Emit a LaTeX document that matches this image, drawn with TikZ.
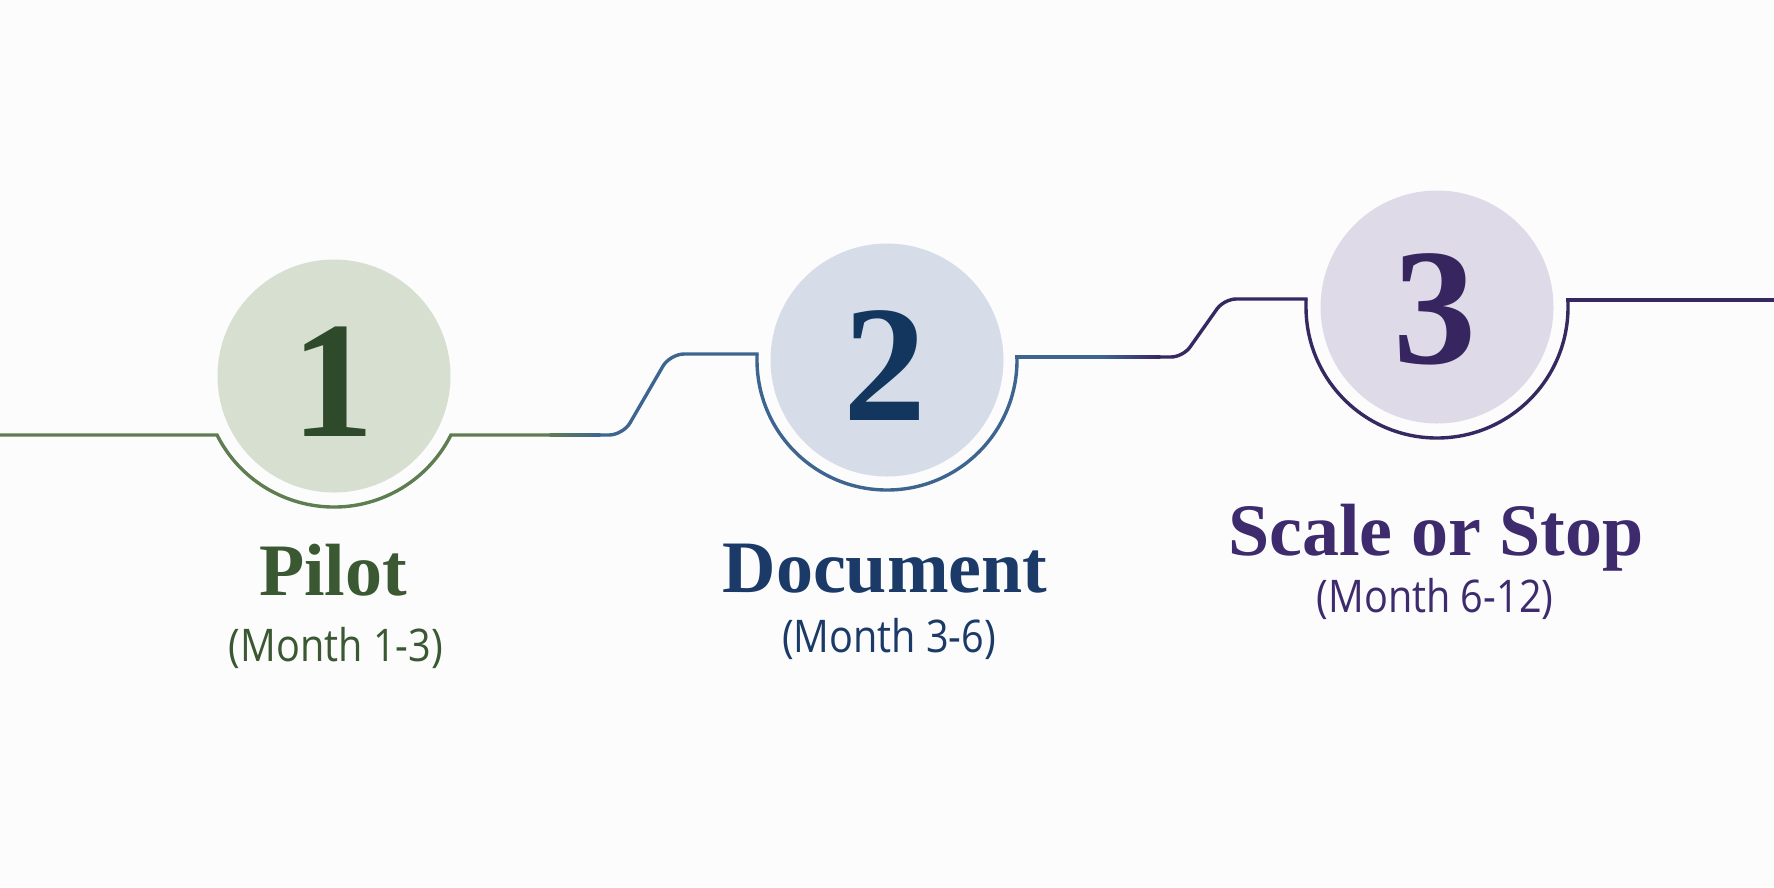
\documentclass[tikz,border=0pt]{standalone}
\usepackage{fontspec}
\setmainfont{Liberation Serif}
\newfontfamily\subfont[FakeStretch=0.88]{Open Sans}
\usetikzlibrary{calc}
\definecolor{bgc}{RGB}{252,252,252}
\definecolor{gfill}{RGB}{215,224,208}
\definecolor{gnum}{RGB}{47,74,42}
\definecolor{gline}{RGB}{94,125,80}
\definecolor{gtext}{RGB}{58,88,50}
\definecolor{bfill}{RGB}{214,221,232}
\definecolor{bnum}{RGB}{18,54,94}
\definecolor{bline}{RGB}{62,101,144}
\definecolor{btext}{RGB}{27,58,104}
\definecolor{pfill}{RGB}{222,218,232}
\definecolor{pnum}{RGB}{54,37,94}
\definecolor{pline}{RGB}{54,40,96}
\definecolor{ptext}{RGB}{62,43,110}
\begin{document}
\begin{tikzpicture}[x=1pt,y=1pt,
  disc/.style={circle, minimum size=233pt, inner sep=0pt, fill=#1},
  numtxt/.style={text=#1, font=\fontsize{166}{166}\selectfont\bfseries, anchor=base, inner sep=0pt},
  titletxt/.style={text=#1, font=\fontsize{74}{74}\selectfont\bfseries, anchor=base, inner sep=0pt},
  subtxt/.style={text=#1, font=\subfont\fontsize{45}{45}\selectfont, anchor=base, inner sep=0pt},
  track/.style={line width=3.4pt, draw=#1, line cap=butt, line join=miter},
]
\fill[bgc] (0,0) rectangle (1774,-887);
\useasboundingbox (0,0) rectangle (1774,-887);

% circles
\node[disc=gfill] (c1) at (334,-376) {};
\node[disc=bfill] (c2) at (887,-360) {};
\node[disc=pfill] (c3) at (1437,-307) {};

% numbers
\node[numtxt=gnum] (n1) at (333,-436) {1};
\node[numtxt=bnum] (n2) at (885,-420) {2};
\node[numtxt=pnum] (n3) at (1435,-363) {3};

% titles and subtitles
\node[titletxt=gtext] (t1) at (333,-595) {Pilot};
\node[subtxt=gtext] (s1) at (336,-661) {(Month 1-3)};
\node[titletxt=btext] (t2) at (885,-592) {Document};
\node[subtxt=btext] (s2) at (889,-652) {(Month 3-6)};
\node[titletxt=ptext] (t3) at (1436,-555) {Scale or Stop};
\node[subtxt=ptext] (s3) at (1435,-612) {(Month 6-12)};

% track coordinates
\coordinate (L0) at (0,-435);
\coordinate (a1s) at (217.04,-435);
\coordinate (g1a) at (550,-435);
\coordinate (g1b) at (600,-435);
\coordinate (k1a) at (623,-435);
\coordinate (k1b) at (670,-354);
\coordinate (a2s) at (757,-354);
\coordinate (a2e) at (1017,-357);
\coordinate (g2a) at (1100,-357);
\coordinate (g2b) at (1160,-357);
\coordinate (k2a) at (1183,-357);
\coordinate (k2b) at (1224,-299);
\coordinate (a3s) at (1306,-299);
\coordinate (a3e) at (1568,-300);
\coordinate (R0) at (1774,-300);

% green part
\draw[track=gline] (L0) -- (a1s) arc[start angle=206.77, end angle=333.23, radius=131] -- (g1a);
% gradient green -> blue
\shade[left color=gline, right color=bline] ($(g1a)+(-0.3,1.35)$) rectangle ($(g1b)+(0.3,-1.35)$);
% blue part
\draw[track=bline, rounded corners=14] (g1b) -- (k1a) -- (k1b) -- ($(a2s)+(1.7,0)$);
\draw[track=bline] (a2s) -- ($(c2.center)+(-130,0)$) arc[start angle=180, end angle=360, radius=130] -- ($(a2e)+(0,1.7)$);
\draw[track=bline] ($(a2e)+(-1.7,0)$) -- (g2a);
% gradient blue -> purple
\shade[left color=bline, right color=pline] ($(g2a)+(-0.3,1.35)$) rectangle ($(g2b)+(0.3,-1.35)$);
% purple part
\draw[track=pline, rounded corners=12] (g2b) -- (k2a) -- (k2b) -- ($(a3s)+(1.7,0)$);
\draw[track=pline] (a3s) -- ($(c3.center)+(-131,0)$) arc[start angle=180, end angle=360, radius=131] -- ($(a3e)+(0,1.7)$);
\draw[track=pline] ($(a3e)+(-1.7,0)$) -- (R0);
\end{tikzpicture}
\end{document}
